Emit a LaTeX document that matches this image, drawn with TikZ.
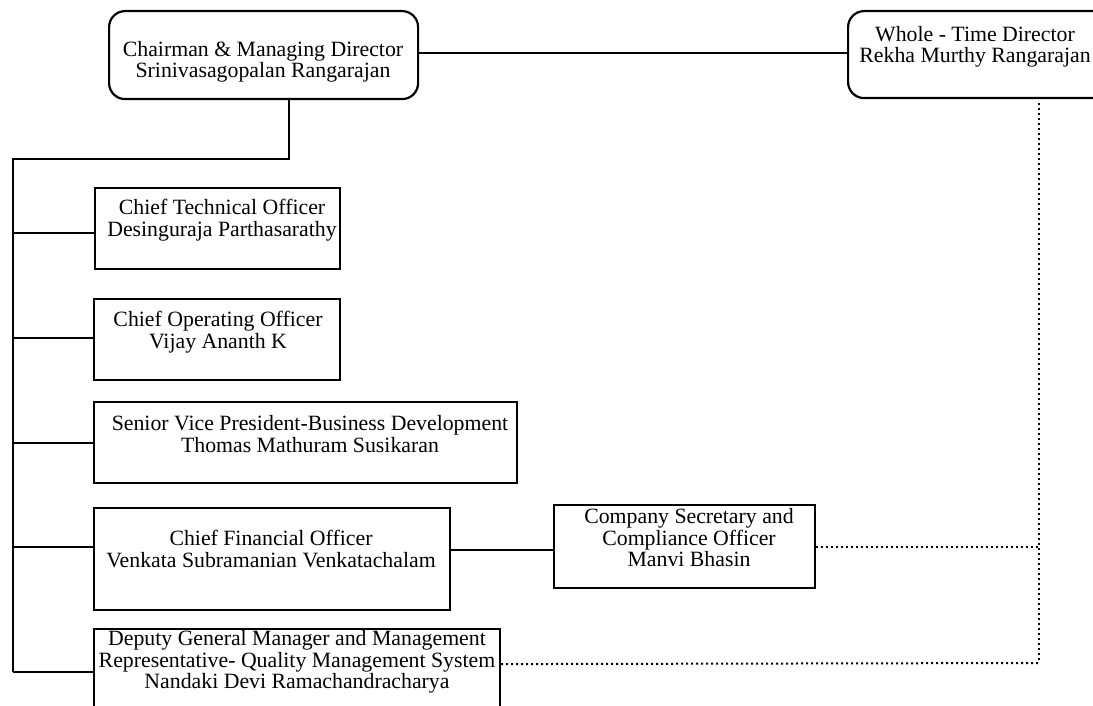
\documentclass[tikz,border=0pt]{standalone}
\usepackage{fontspec}
\setmainfont{Liberation Serif}
\usetikzlibrary{calc}
\tikzset{
  box/.style={draw=black, line width=2.2pt, fill=none, inner sep=0pt, anchor=north west},
  rbox/.style={box, rounded corners=16pt},
  txt/.style={align=center, inner sep=0pt, text=black, font=\fontsize{21.8pt}{21.5pt}\selectfont},
  conn/.style={draw=black, line width=2pt},
  dotline/.style={draw=black, line width=2pt, dash pattern=on 2pt off 3pt},
}
\begin{document}
\begin{tikzpicture}[x=1pt,y=-1pt]
\useasboundingbox (0,0) rectangle (1093,706);
\clip (0,0) rectangle (1093,706);
\fill[white] (0,0) rectangle (1093,706);

% boxes
\node[rbox, minimum width=309pt, minimum height=88pt] (chair) at (108,10) {};
\node[rbox, minimum width=266pt, minimum height=87pt] (wtd) at (847,10) {};
\node[box, minimum width=245pt, minimum height=81pt] (cto) at (94,187) {};
\node[box, minimum width=246pt, minimum height=81pt] (coo) at (93,298) {};
\node[box, minimum width=423pt, minimum height=81pt] (svp) at (93,401) {};
\node[box, minimum width=356pt, minimum height=102pt] (cfo) at (93,507) {};
\node[box, minimum width=261pt, minimum height=83pt] (cs) at (553,504) {};
\node[box, minimum width=406pt, minimum height=86pt] (dgm) at (93,628) {};

% texts
\node[txt] (chairt) at (263,62) {Chairman \& Managing Director\\Srinivasagopalan Rangarajan};
\node[txt] (wtdt) at (975,47) {Whole - Time Director\\Rekha Murthy Rangarajan};
\node[txt] (ctot) at (222,220) {Chief Technical Officer\\Desinguraja Parthasarathy};
\node[txt] (coot) at (218,332) {Chief Operating Officer\\Vijay Ananth K};
\node[txt] (svpt) at (310,434) {Senior Vice President-Business Development\\Thomas Mathuram Susikaran};
\node[txt] (cfot) at (271,549) {Chief Financial Officer\\Venkata Subramanian Venkatachalam};
\node[txt] (cst) at (689,538) {Company Secretary and\\Compliance Officer\\Manvi Bhasin};
\node[txt] (dgmt) at (297,662) {Deputy General Manager and Management\\Representative- Quality Management System\\Nandaki Devi Ramachandracharya};

% helper coordinates
\coordinate (joint) at (289,159);
\coordinate (trunk) at (13,159);
\coordinate (dcorner) at (1039,663);
\coordinate (ctoW) at ([yshift=-4.5pt]cto.west);
\coordinate (cooW) at ([yshift=1.5pt]coo.west);
\coordinate (cfoW) at ([yshift=12.5pt]cfo.west);
\coordinate (cfoE) at ([yshift=9.5pt]cfo.east);
\coordinate (dgmE) at ([yshift=8pt]dgm.east);
\coordinate (wtdS) at ([yshift=-4pt]wtd.south);

% solid connectors
\draw[conn] ([yshift=2pt]chair.east) -- ([yshift=2pt]chair.east -| wtd.west);
\draw[conn] (joint |- chair.south) -- (joint) -- (trunk) -- (trunk |- dgm.west);
\draw[conn] (trunk |- ctoW) -- (ctoW);
\draw[conn] (trunk |- cooW) -- (cooW);
\draw[conn] (trunk |- svp.west) -- (svp.west);
\draw[conn] (trunk |- cfoW) -- (cfoW);
\draw[conn] (trunk |- dgm.west) -- (dgm.west);
\draw[conn] (cfoE) -- (cfoE -| cs.west);

% dotted connectors
\draw[dotline] (wtdS -| dcorner) -- (dcorner);
\draw[dotline] (cs.east) -- (cs.east -| dcorner);
\draw[dotline] (dgmE) -- (dcorner);
\end{tikzpicture}
\end{document}
